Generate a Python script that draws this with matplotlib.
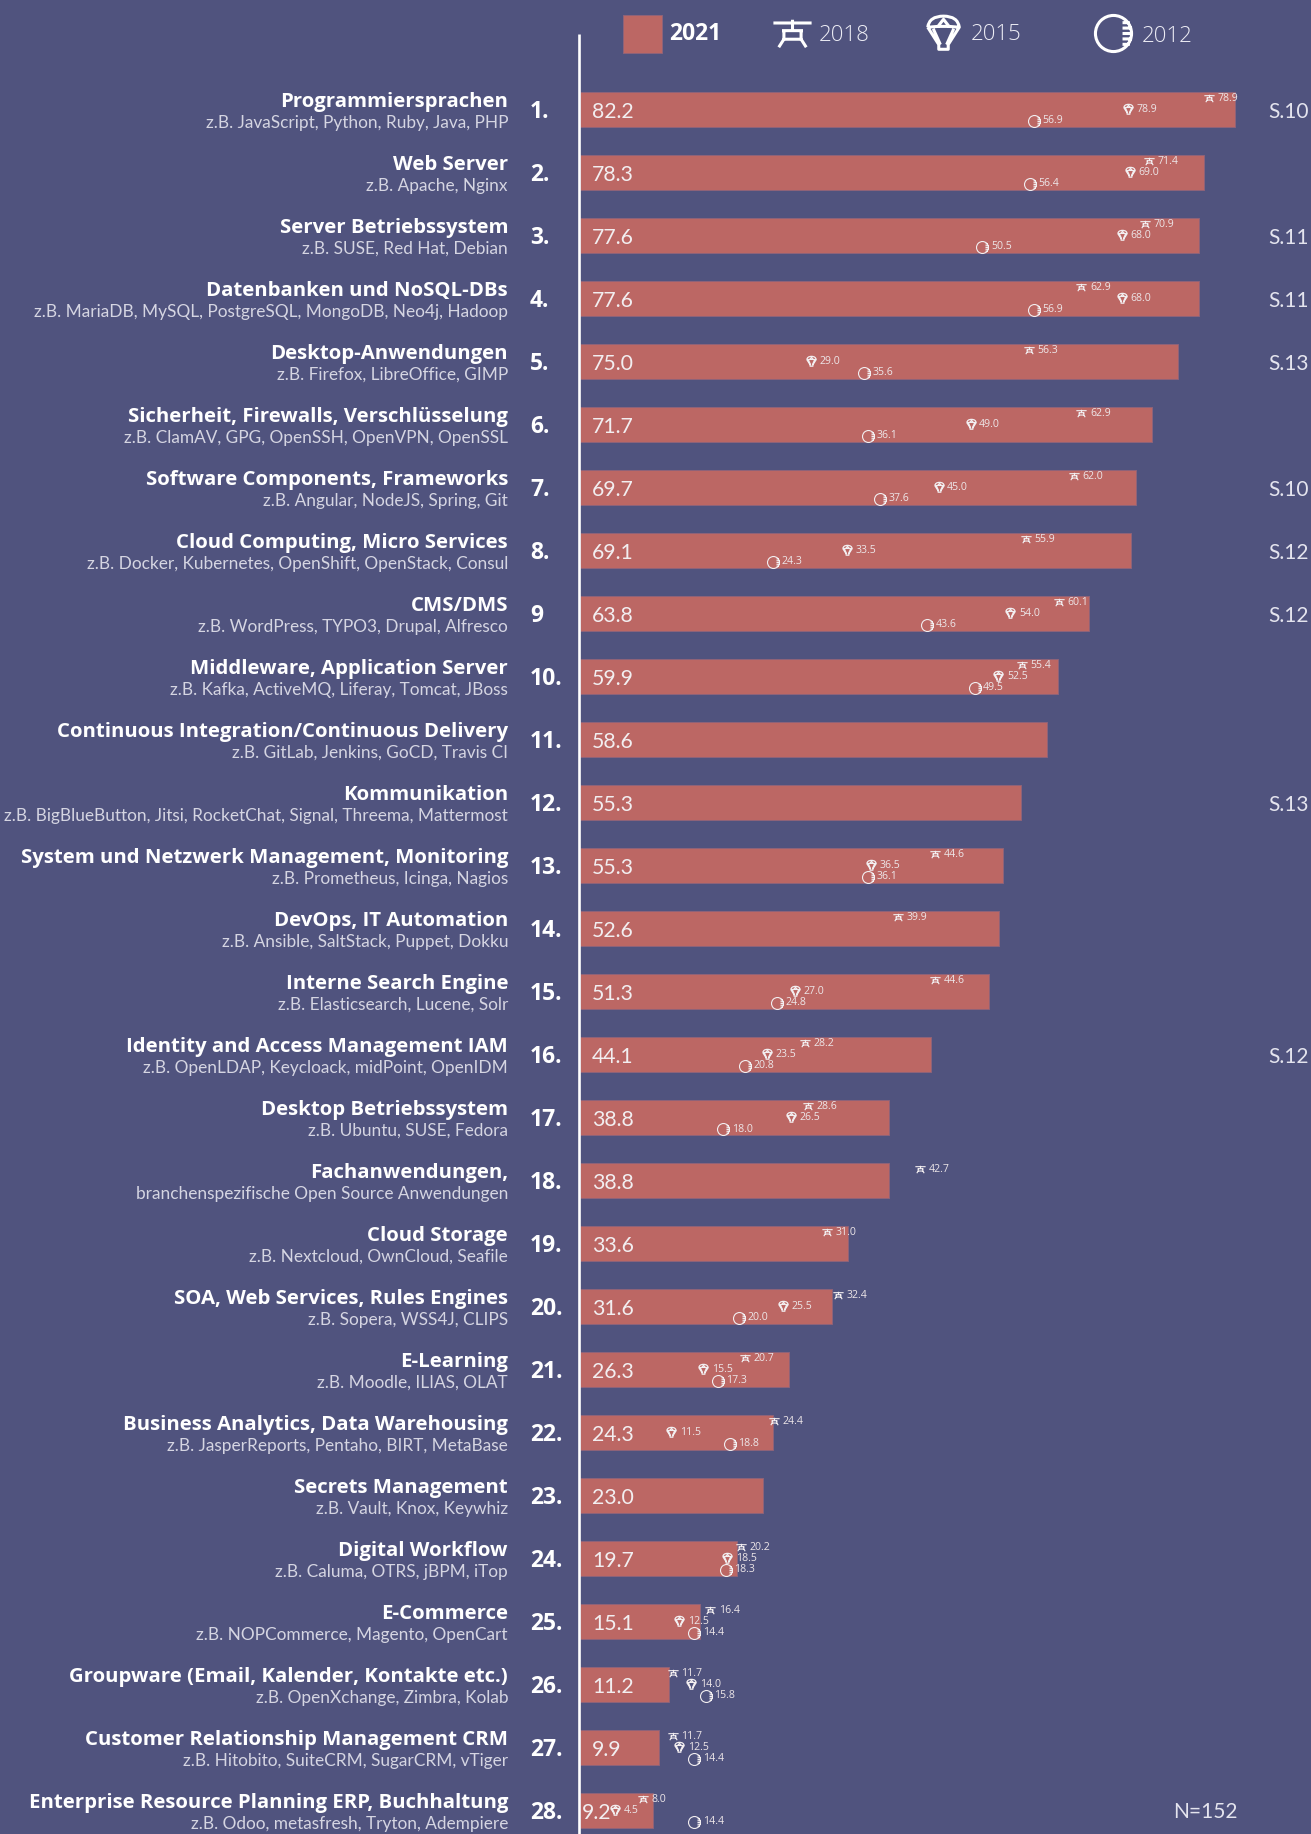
import matplotlib
matplotlib.use("Agg")
import matplotlib.pyplot as plt
from matplotlib.path import Path
from matplotlib.patches import Rectangle

titles = ["Programmiersprachen", "Web Server", "Server Betriebssystem", "Datenbanken und NoSQL-DBs",
          "Desktop-Anwendungen", "Sicherheit, Firewalls, Verschlüsselung", "Software Components, Frameworks",
          "Cloud Computing, Micro Services", "CMS/DMS", "Middleware, Application Server",
          "Continuous Integration/Continuous Delivery", "Kommunikation",
          "System und Netzwerk Management, Monitoring", "DevOps, IT Automation", "Interne Search Engine",
          "Identity and Access Management IAM", "Desktop Betriebssystem", "Fachanwendungen,", "Cloud Storage",
          "SOA, Web Services, Rules Engines", "E-Learning", "Business Analytics, Data Warehousing",
          "Secrets Management", "Digital Workflow", "E-Commerce", "Groupware (Email, Kalender, Kontakte etc.)",
          "Customer Relationship Management CRM", "Enterprise Resource Planning ERP, Buchhaltung"]
subs = ["z.B. JavaScript, Python, Ruby, Java, PHP", "z.B. Apache, Nginx", "z.B. SUSE, Red Hat, Debian",
        "z.B. MariaDB, MySQL, PostgreSQL, MongoDB, Neo4j, Hadoop", "z.B. Firefox, LibreOffice, GIMP",
        "z.B. ClamAV, GPG, OpenSSH, OpenVPN, OpenSSL", "z.B. Angular, NodeJS, Spring, Git",
        "z.B. Docker, Kubernetes, OpenShift, OpenStack, Consul", "z.B. WordPress, TYPO3, Drupal, Alfresco",
        "z.B. Kafka, ActiveMQ, Liferay, Tomcat, JBoss", "z.B. GitLab, Jenkins, GoCD, Travis CI",
        "z.B. BigBlueButton, Jitsi, RocketChat, Signal, Threema, Mattermost", "z.B. Prometheus, Icinga, Nagios",
        "z.B. Ansible, SaltStack, Puppet, Dokku", "z.B. Elasticsearch, Lucene, Solr",
        "z.B. OpenLDAP, Keycloack, midPoint, OpenIDM", "z.B. Ubuntu, SUSE, Fedora",
        "branchenspezifische Open Source Anwendungen", "z.B. Nextcloud, OwnCloud, Seafile",
        "z.B. Sopera, WSS4J, CLIPS", "z.B. Moodle, ILIAS, OLAT", "z.B. JasperReports, Pentaho, BIRT, MetaBase",
        "z.B. Vault, Knox, Keywhiz", "z.B. Caluma, OTRS, jBPM, iTop", "z.B. NOPCommerce, Magento, OpenCart",
        "z.B. OpenXchange, Zimbra, Kolab", "z.B. Hitobito, SuiteCRM, SugarCRM, vTiger",
        "z.B. Odoo, metasfresh, Tryton, Adempiere"]
ranks = [f"{i}." for i in range(1, 29)]
ranks[8] = "9"

labels_2021 = [82.2, 78.3, 77.6, 77.6, 75.0, 71.7, 69.7, 69.1, 63.8, 59.9, 58.6, 55.3, 55.3, 52.6,
               51.3, 44.1, 38.8, 38.8, 33.6, 31.6, 26.3, 24.3, 23.0, 19.7, 15.1, 11.2, 9.9, 9.2]
# drawn length differs from the printed number in row 13
bars_2021 = [82.2, 78.3, 77.6, 77.6, 75.0, 71.7, 69.7, 69.1, 63.8, 59.9, 58.6, 55.3, 53.1, 52.6,
             51.3, 44.1, 38.8, 38.8, 33.6, 31.6, 26.3, 24.3, 23.0, 19.7, 15.1, 11.2, 9.9, 9.2]
v2018 = [78.9, 71.4, 70.9, 62.9, 56.3, 62.9, 62.0, 55.9, 60.1, 55.4, None, None, 44.6, 39.9,
         44.6, 28.2, 28.6, 42.7, 31.0, 32.4, 20.7, 24.4, None, 20.2, 16.4, 11.7, 11.7, 8.0]
v2015 = [78.9, 69.0, 68.0, 68.0, 29.0, 49.0, 45.0, 33.5, 54.0, 52.5, None, None, 36.5, None,
         27.0, 23.5, 26.5, None, None, 25.5, 15.5, 11.5, None, 18.5, 12.5, 14.0, 12.5, 4.5]
v2012 = [56.9, 56.4, 50.5, 56.9, 35.6, 36.1, 37.6, 24.3, 43.6, 49.5, None, None, 36.1, None,
         24.8, 20.8, 18.0, None, None, 20.0, 17.3, 18.8, None, 18.3, 14.4, 15.8, 14.4, 14.4]
# first 2015 icon sits at about 68.7 although it is labelled 78.9
pos2015 = [68.7] + v2015[1:]
pages = {0: "S.10", 2: "S.11", 3: "S.11", 4: "S.13", 6: "S.10", 7: "S.12", 8: "S.12", 11: "S.13", 15: "S.12"}

BG = "#50537E"
BAR = "#BC6764"
FG = "#F2EEF0"
THIN = ["Lato", "DejaVu Sans"]
SANS = ["Open Sans", "DejaVu Sans"]

M, L = Path.MOVETO, Path.LINETO
C3 = Path.CURVE3

crane = Path([(-1, .55), (1, .55), (0, .72), (0, .15), (-.55, .15), (.55, .15), (-.45, .15), (-.45, -.3), (.45, -.3),
              (.45, .15), (-.45, -.3), (-.72, -.72), (.45, -.3), (.72, -.72)],
             [M, L, M, L, M, L, M, L, L, L, M, L, M, L])
chute = Path([(-1, .4), (-.9, 1.1), (0, 1.1), (.9, 1.1), (1, .4), (.3, -.7), (.3, -1), (-.3, -1), (-.3, -.7), (-1, .4),
              (-.95, .4), (-.35, .45), (0, .9), (.35, .45), (.95, .4), (-.35, .45), (.35, .45), (-.65, .3), (-.2, -.7),
              (.65, .3), (.2, -.7)],
             [M, C3, C3, C3, C3, L, L, L, L, L,
              M, L, L, L, L, M, L, M, L, M, L])
unit = Path.unit_circle()
moon = Path(list(unit.vertices) + [(.5, .6), (.9, .6), (.5, .3), (1, .3), (.5, 0), (1, 0), (.5, -.3), (1, -.3), (.5, -.6), (.9, -.6)],
            list(unit.codes) + [M, L, M, L, M, L, M, L, M, L])

PX = 7.98
ROW = 63.0


def px_x(p):
    return (p - 579.5) / PX


def px_y(p):
    return (p - 109.5) / ROW


fig = plt.figure(figsize=(13.11, 18.34), dpi=100, facecolor=BG)
ax = fig.add_axes([0, 0, 1, 1], facecolor=BG)
ax.set_xlim(px_x(0), px_x(1311))
ax.set_ylim(px_y(1834), px_y(0))
ax.axis("off")

rows = list(range(28))
ax.barh(rows, bars_2021, height=0.54, color=BAR, edgecolor="#8F6379", linewidth=0.7, zorder=2)
ax.plot([px_x(578.5)] * 2, [px_y(34), px_y(1834)], color="white", lw=1.9, zorder=3, solid_capstyle="butt")

for i in rows:
    ax.text(px_x(508), i - 7 / ROW, titles[i], ha="right", va="center", color="white", fontsize=14.7,
            family=SANS, weight="bold")
    ax.text(px_x(508), i + 13.5 / ROW, subs[i], ha="right", va="center", color="#D5D5E2", fontsize=12.4,
            family=THIN)
    ax.text(px_x(530), i + 3 / ROW, ranks[i], ha="left", va="center", color="white", fontsize=16.5,
            family=SANS, weight="bold")
    value_x = 582 if i == 27 else 592
    ax.text(px_x(value_x), i + 2.5 / ROW, f"{labels_2021[i]:.1f}", ha="left", va="center", color=FG, fontsize=15.3,
            family=THIN, zorder=5)
    if i in pages:
        ax.text(px_x(1268), i + 3 / ROW, pages[i], ha="left", va="center", color="#E4E4EE", fontsize=15,
                family=THIN)

series = [(v2018, v2018, crane, -11, 7.4, 0.8), (v2015, pos2015, chute, 0, 7.4, 0.9), (v2012, v2012, moon, 11.5, 8.6, 0.8)]
for vals, pos, shape, off, ms, mew in series:
    for i in rows:
        if vals[i] is None:
            continue
        y = i + off / ROW
        ax.plot([pos[i]], [y], marker=shape, ms=ms, mew=mew, mec=FG, mfc="none", ls="none", zorder=6)
        ax.text(pos[i] + 8.5 / PX, y, f"{vals[i]:.1f}", ha="left", va="center", color="#EDE6E8", fontsize=7.6,
                family=SANS, zorder=6)

# legend
ax.add_patch(Rectangle((px_x(623), px_y(15)), 39 / PX, 38 / ROW, facecolor=BAR, edgecolor="#8F6379", lw=0.7))
ax.text(px_x(669), px_y(34), "2021", ha="left", va="center", color="white", fontsize=16.5, family=SANS, weight="bold")
legend_years = ["2018", "2015", "2012"]
legend_icons = [crane, chute, moon]
legend_x = [792, 943, 1113]
legend_text_x = [819, 971, 1142]
legend_text_y = [36, 35, 37]
legend_ms = [27.5, 25, 26]
for year, icon, x, tx, ty, ms in zip(legend_years, legend_icons, legend_x, legend_text_x, legend_text_y, legend_ms):
    ax.plot([px_x(x)], [px_y(33)], marker=icon, ms=ms, mew=2.2, mec="white", mfc="none", ls="none")
    ax.text(px_x(tx), px_y(ty), year, ha="left", va="center", color="#ECECF4", fontsize=16, family=SANS, weight="light")

ax.text(px_x(1173), px_y(1812), "N=152", ha="left", va="center", color="#E4E4EE", fontsize=15, family=THIN)

fig.savefig("out.png", dpi=100, facecolor=BG)
